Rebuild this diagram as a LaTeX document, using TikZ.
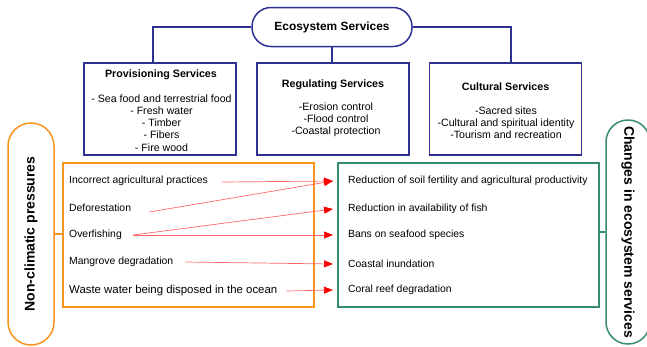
\documentclass[tikz,border=0pt]{standalone}
\usepackage{fontspec}
\setmainfont{Liberation Sans}
\usetikzlibrary{arrows.meta}
\usetikzlibrary{positioning}

\definecolor{esblue}{RGB}{46,49,146}
\definecolor{nporange}{RGB}{247,148,29}
\definecolor{chgreen}{RGB}{55,140,110}

\begin{document}
\begin{tikzpicture}[x=1pt,y=-1pt,
    svcbox/.style={draw=esblue,line width=1.5pt,minimum width=152pt,minimum height=92pt,inner sep=0pt},
    pill/.style={draw,line width=1.5pt,rounded corners=#1,inner sep=0pt},
    svctitle/.style={inner sep=0pt,font=\fontsize{10.7}{12}\selectfont\bfseries},
    svclist/.style={inner sep=0pt,align=center,font=\fontsize{10.6}{12.2}\selectfont},
    itemtxt/.style={anchor=west,inner sep=0pt,font=\fontsize{10.4}{12}\selectfont},
    arr/.style={draw=red!60,line width=0.7pt,-{Triangle[length=9pt,width=7pt,color=red]}}]
  \useasboundingbox (0,0) rectangle (647,346);

  \node[pill=19pt,draw=esblue,minimum width=160pt,minimum height=39pt,
        font=\fontsize{11.9}{14}\selectfont\bfseries] (es) at (332,27) {Ecosystem Services};
  \node[svcbox] (prov) at (160,109) {};
  \node[svcbox] (reg) at (333,109) {};
  \node[svcbox] (cult) at (505.5,109) {};
  \draw[esblue,line width=1.5pt] (es.west) -| ([xshift=-7pt]prov.north);
  \draw[esblue,line width=1.5pt] (es.south) -- (es.south |- reg.north);
  \draw[esblue,line width=1.5pt] (es.east) -| ([xshift=5.5pt]cult.north);

  \node[svctitle] (provt) at (161,75) {Provisioning Services};
  \node[svclist] (provl) at (161.5,123) {- Sea food and terrestrial food\\- Fresh water\\- Timber\\- Fibers\\- Fire wood};
  \node[svctitle] (regt) at (333,85) {Regulating Services};
  \node[svclist] (regl) at (336,120) {-Erosion control\\-Flood control\\-Coastal protection};
  \node[svctitle] (cultt) at (505.5,87) {Cultural Services};
  \node[svclist] (cultl) at (506,123) {-Sacred sites\\-Cultural and spiritual identity\\-Tourism and recreation};

  \node[pill=23pt,draw=nporange,rotate=90,minimum width=222pt,minimum height=46pt,
        font=\fontsize{14}{16}\selectfont\bfseries] (ncp) at (31,234) {Non-climatic pressures};
  \node[pill=22pt,draw=chgreen,rotate=-90,minimum width=224pt,minimum height=44pt,
        font=\fontsize{14}{16}\selectfont\bfseries] (ces) at (628,232) {Changes in ecosystem services};
  \node[draw=nporange,line width=1.5pt,minimum width=251pt,minimum height=144pt] (npbox) at (188.5,235) {};
  \node[draw=chgreen,line width=1.4pt,minimum width=261pt,minimum height=144pt] (chbox) at (468.5,235) {};
  \draw[nporange,line width=1.4pt] (ncp.south) -- (ncp.south -| npbox.west);
  \draw[chgreen,line width=1.3pt] (ces.south) -- (ces.south -| chbox.east);

  \foreach \n/\y/\t in {l1/181/Incorrect agricultural practices,l2/208/Deforestation,
                        l3/235/Overfishing,l4/262/Mangrove degradation}
    \node[itemtxt] (\n) at (69,\y) {\t};
  \node[itemtxt,font=\fontsize{11.4}{13}\selectfont] (l5) at (69,291) {Waste water being disposed in the ocean};
  \foreach \n/\y/\t in {r1/181/Reduction of soil fertility and agricultural productivity,
                        r2/209/Reduction in availability of fish,r3/235/Bans on seafood species,
                        r4/264/Coastal inundation,r5/290/Coral reef degradation}
    \node[itemtxt] (\n) at (348,\y) {\t};

  \foreach \a/\b/\s/\d in {l1/r1/14/-1,l2/r1/18/-4,l3/r2/11/0,l3/r3/11/0,l4/r4/12/0,l5/r5/9/0}
    \draw[arr] ([xshift=\s pt,yshift=\d pt]\a.east) -- ([xshift=-15pt]\b.west);
\end{tikzpicture}
\end{document}
